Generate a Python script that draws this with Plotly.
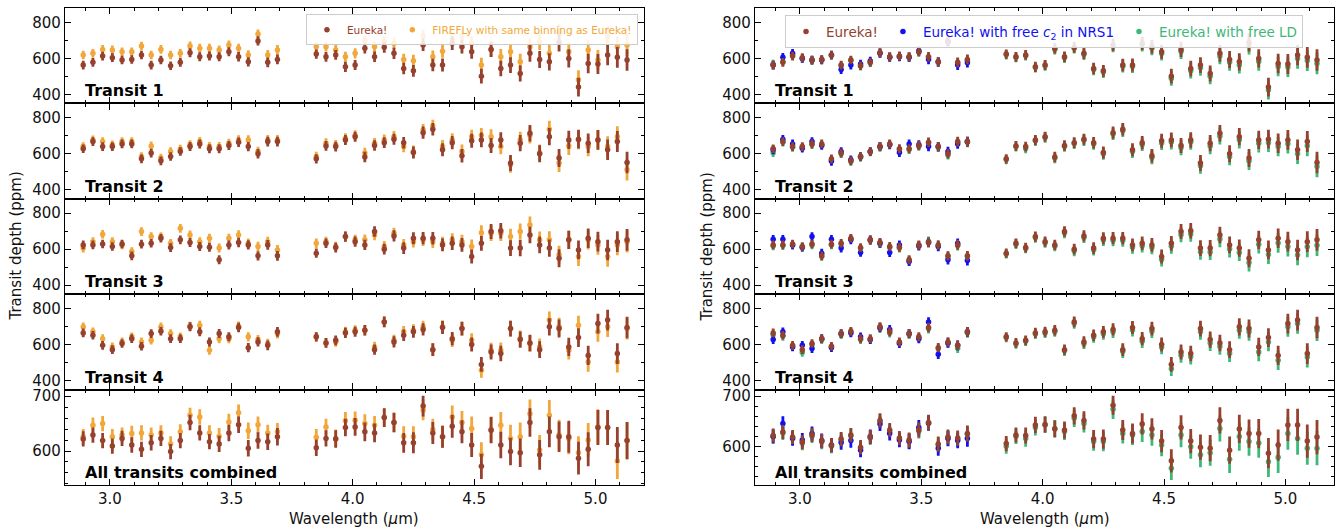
import plotly.graph_objects as go
from plotly.subplots import make_subplots

# ---------------- data ----------------
wavelength = [2.89, 2.93, 2.97, 3.01, 3.05, 3.09, 3.13, 3.17, 3.21, 3.25, 3.29, 3.33, 3.37, 3.41,
              3.45, 3.49, 3.53, 3.57, 3.61, 3.65, 3.69,
              3.85, 3.89, 3.93, 3.97, 4.01, 4.05, 4.09, 4.13, 4.17, 4.21, 4.25, 4.29, 4.33, 4.37,
              4.41, 4.45, 4.49, 4.53, 4.57, 4.61, 4.65, 4.69, 4.73, 4.77, 4.81, 4.85, 4.89, 4.93,
              4.97, 5.01, 5.05, 5.09, 5.13]
wavelength_nrs1 = [2.89, 2.93, 2.97, 3.01, 3.05, 3.09, 3.13, 3.17, 3.21, 3.25, 3.29, 3.33, 3.37,
                   3.41, 3.45, 3.49, 3.53, 3.57, 3.61, 3.65, 3.69]

row_labels = ["Transit 1", "Transit 2", "Transit 3", "Transit 4", "All transits combined"]

eureka_t1 = [563, 578, 613, 604, 591, 594, 619, 563, 591, 559, 578, 632, 609, 613, 609, 637, 609, 581, 697, 578, 594,
             624, 609, 619, 553, 563, 656, 609, 662, 628, 544, 531, 675, 563, 563, 684, 665, 637, 501, 650, 544, 563,
             516, 628, 594, 581, 688, 600, 441, 572, 569, 619, 606, 591]
eureka_t2 = [628, 668, 640, 640, 655, 655, 572, 604, 561, 585, 613, 640, 655, 628, 628, 646, 664, 640, 600, 668, 668,
             572, 644, 640, 677, 695, 582, 646, 662, 681, 662, 607, 717, 736, 622, 662, 589, 672, 677, 646, 677, 549,
             659, 714, 600, 695, 576, 677, 681, 659, 677, 622, 668, 552]
eureka_t3 = [624, 624, 629, 615, 629, 563, 628, 633, 661, 609, 652, 637, 615, 611, 541, 624, 637, 624, 563, 624, 563,
             578, 633, 609, 670, 642, 624, 698, 600, 674, 606, 661, 661, 661, 624, 633, 624, 559, 633, 698, 703, 606,
             606, 679, 624, 606, 550, 652, 596, 661, 642, 596, 642, 652]
eureka_t4 = [665, 652, 596, 572, 606, 633, 591, 661, 674, 633, 633, 699, 671, 615, 661, 643, 695, 583, 615, 596, 671,
             643, 609, 624, 665, 671, 680, 572, 726, 615, 652, 671, 684, 572, 695, 633, 689, 600, 490, 559, 550, 689,
             628, 609, 572, 699, 689, 587, 639, 540, 717, 736, 550, 695]
eureka_all = [622, 629, 619, 609, 623, 611, 603, 615, 623, 599, 619, 652, 633, 617, 613, 633, 648, 605, 619, 617, 626,
              606, 623, 622, 643, 644, 635, 633, 661, 652, 615, 615, 682, 633, 626, 645, 635, 611, 572, 638, 611, 599,
              597, 652, 593, 635, 626, 626, 587, 603, 643, 643, 611, 619]

firefly_t1 = [619, 628, 650, 647, 637, 637, 669, 619, 650, 619, 628, 669, 656, 656, 647, 675, 656, 619, 735, 619, 647,
              665, 665, 647, 609, 628, 699, 665, 693, 684, 594, 587, 725, 609, 640, 706, 721, 684, 563, 650, 609, 637,
              581, 665, 693, 628, 740, 637, 482, 647, 591, 721, 665, 675]
firefly_t2 = [640, 677, 668, 650, 668, 668, 585, 644, 576, 613, 626, 650, 668, 640, 640, 659, 677, 677, 613, 677, 677,
              585, 659, 650, 686, 703, 604, 659, 677, 695, 640, 613, 732, 754, 640, 677, 613, 695, 703, 695, 640, 539,
              677, 703, 604, 736, 549, 644, 677, 640, 677, 640, 695, 512]
firefly_t3 = [606, 642, 683, 642, 624, 587, 698, 670, 670, 633, 716, 679, 642, 661, 606, 661, 679, 633, 615, 642, 596,
              633, 642, 615, 670, 652, 652, 679, 615, 688, 624, 642, 652, 642, 633, 652, 642, 615, 692, 688, 688, 670,
              698, 735, 652, 652, 569, 652, 559, 652, 624, 559, 624, 642]
firefly_t4 = [699, 671, 633, 587, 615, 643, 615, 624, 699, 661, 643, 702, 708, 568, 633, 633, 702, 643, 628, 606, 661,
              643, 609, 615, 671, 680, 680, 587, 726, 624, 671, 680, 699, 572, 699, 624, 689, 624, 457, 568, 568, 689,
              633, 606, 587, 736, 699, 568, 708, 503, 671, 699, 503, 689]
firefly_all = [626, 647, 650, 626, 629, 632, 633, 629, 633, 613, 635, 665, 662, 633, 627, 653, 670, 637, 648, 633, 635,
               625, 644, 623, 655, 656, 650, 647, 661, 652, 627, 626, 675, 639, 626, 662, 652, 641, 593, 639, 647, 623,
               626, 668, 602, 665, 629, 623, 597, 620, 644, 643, 582, 619]

free_c2_t1 = [563, 606, 628, 600, 591, 591, 619, 538, 563, 569, 585, 628, 606, 609, 606, 643, 594, 581, 693, 563, 576]
free_c2_t2 = [622, 681, 655, 631, 668, 646, 558, 613, 567, 585, 613, 640, 650, 607, 655, 650, 640, 640, 613, 655, 668]
free_c2_t3 = [655, 655, 624, 611, 670, 578, 655, 606, 652, 582, 652, 633, 582, 624, 532, 618, 637, 615, 541, 633, 537]
free_c2_t4 = [628, 671, 587, 596, 578, 633, 583, 661, 665, 643, 628, 695, 684, 606, 661, 633, 726, 546, 609, 596, 671]
free_c2_all = [620, 646, 616, 613, 626, 612, 603, 608, 612, 593, 620, 645, 626, 613, 610, 638, 647, 597, 616, 612, 616]

free_ld_t1 = [568, 582, 616, 600, 588, 592, 616, 560, 588, 557, 576, 630, 606, 610, 606, 634, 606, 578, 694, 575, 590,
              620, 606, 615, 549, 559, 650, 604, 657, 622, 538, 524, 668, 556, 555, 676, 656, 627, 489, 638, 531, 548,
              501, 613, 578, 564, 672, 583, 424, 555, 552, 600, 588, 572]
free_ld_t2 = [606, 664, 636, 635, 651, 650, 566, 600, 557, 580, 610, 636, 652, 624, 624, 642, 660, 636, 594, 664, 664,
              568, 640, 630, 672, 690, 577, 640, 657, 675, 655, 600, 710, 728, 613, 652, 580, 660, 665, 634, 665, 533,
              643, 698, 583, 678, 560, 658, 662, 640, 656, 600, 645, 530]
free_ld_t3 = [618, 620, 622, 610, 624, 560, 624, 629, 657, 605, 648, 632, 610, 606, 537, 620, 644, 620, 560, 620, 560,
              574, 628, 604, 664, 636, 617, 690, 591, 665, 597, 651, 650, 649, 611, 619, 610, 543, 616, 680, 684, 586,
              585, 657, 601, 582, 526, 627, 570, 634, 615, 568, 613, 622]
free_ld_t4 = [655, 646, 588, 556, 600, 628, 586, 655, 668, 628, 628, 690, 664, 610, 656, 638, 688, 578, 608, 580, 665,
              639, 604, 619, 659, 664, 672, 566, 718, 606, 642, 660, 671, 561, 681, 618, 674, 585, 466, 541, 532, 671,
              609, 589, 550, 680, 671, 559, 615, 513, 699, 717, 531, 680]
free_ld_all = [620, 627, 617, 607, 621, 609, 601, 613, 621, 597, 617, 650, 631, 615, 611, 631, 646, 603, 617, 615, 624,
               601, 620, 616, 638, 643, 636, 630, 656, 646, 610, 610, 674, 626, 623, 630, 623, 603, 557, 623, 600, 584,
               588, 636, 575, 620, 610, 607, 570, 579, 626, 616, 597, 597]

err_single = [24, 24, 24, 24, 24, 24, 24, 24, 24, 24, 24, 25, 25, 25, 25, 25, 26, 26, 26, 27, 27,
              26, 27, 27, 28, 28, 29, 29, 30, 31, 32, 33, 34, 35, 36, 37, 38, 39, 41, 42, 43, 44,
              45, 46, 47, 48, 50, 51, 52, 54, 55, 57, 58, 60]
err_all = [14, 14, 14, 14, 14, 14, 14, 14, 14, 14, 14, 14, 14, 14, 15, 15, 15, 15, 15, 15, 16,
           15, 15, 16, 16, 16, 17, 17, 17, 18, 18, 19, 19, 20, 20, 21, 21, 22, 23, 24, 24, 25,
           26, 26, 27, 28, 28, 29, 30, 31, 32, 32, 33, 34]

eureka_rows = [eureka_t1, eureka_t2, eureka_t3, eureka_t4, eureka_all]
firefly_rows = [firefly_t1, firefly_t2, firefly_t3, firefly_t4, firefly_all]
free_c2_rows = [free_c2_t1, free_c2_t2, free_c2_t3, free_c2_t4, free_c2_all]
free_ld_rows = [free_ld_t1, free_ld_t2, free_ld_t3, free_ld_t4, free_ld_all]
err_rows = [err_single, err_single, err_single, err_single, err_all]

# ---------------- style ----------------
BROWN = "#96402e"
ORANGE = "#f2a73a"
BLUE = "#1010f0"
GREEN = "#3cb878"
FONT = "DejaVu Sans"

fig = make_subplots(rows=5, cols=2, horizontal_spacing=0.0874, vertical_spacing=0)


def add(row, col, x, y, err, color, name, show, legend, rank):
    fig.add_trace(go.Scatter(
        x=x, y=y, mode="markers",
        marker=dict(color=color, size=5.5, symbol="circle", line=dict(width=0)),
        error_y=dict(type="data", array=err, visible=True, color=color, thickness=2.8, width=0),
        name=name, showlegend=show, legend=legend, legendrank=rank, hoverinfo="skip"),
        row=row, col=col)


def span(color, txt):
    return f"<span style='color:{color}'>{txt}</span>"


for i in range(5):
    r = i + 1
    show = (i == 0)
    err = err_rows[i]
    err1 = err[:len(wavelength_nrs1)]
    # left column
    add(r, 1, wavelength, firefly_rows[i], err, ORANGE,
        span(ORANGE, "FIREFLy with same binning as Eureka!"), show, "legend", 2)
    add(r, 1, wavelength, eureka_rows[i], err, BROWN, span(BROWN, "Eureka!"), show, "legend", 1)
    # right column
    add(r, 2, wavelength, free_ld_rows[i], err, GREEN,
        span(GREEN, "Eureka! with free LD"), show, "legend2", 3)
    add(r, 2, wavelength_nrs1, free_c2_rows[i], err1, BLUE,
        span(BLUE, "Eureka! with free <i>c</i><sub>2</sub> in NRS1"), show, "legend2", 2)
    add(r, 2, wavelength, eureka_rows[i], err, BROWN, span(BROWN, "Eureka!"), show, "legend2", 1)

axis_common = dict(showline=True, linecolor="black", linewidth=1.3, mirror="allticks",
                   ticks="inside", ticklen=6, tickwidth=1, tickcolor="black",
                   showgrid=False, zeroline=False,
                   tickfont=dict(family=FONT, size=15, color="#111"))

for r in range(1, 6):
    for c in (1, 2):
        fig.update_xaxes(range=[2.815, 5.2], tick0=3.0, dtick=0.5, tickformat=".1f",
                         minor=dict(ticks="inside", dtick=0.1, ticklen=3, tickcolor="black", tickwidth=1),
                         showticklabels=(r == 5), row=r, col=c, **axis_common)
        if r < 5:
            fig.update_yaxes(range=[350, 880], tick0=0, dtick=200,
                             minor=dict(ticks="inside", dtick=100, ticklen=3, tickcolor="black", tickwidth=1),
                             row=r, col=c, **axis_common)
        else:
            yr = [538, 712] if c == 1 else [524, 713]
            fig.update_yaxes(range=yr, tick0=0, dtick=100,
                             minor=dict(ticks="inside", dtick=20, ticklen=3, tickcolor="black", tickwidth=1),
                             row=r, col=c, **axis_common)

# row labels
annotations = []
for i in range(5):
    for c in (1, 2):
        n = i * 2 + c
        sfx = "" if n == 1 else str(n)
        annotations.append(dict(text=f"<b>{row_labels[i]}</b>", xref=f"x{sfx} domain", yref=f"y{sfx} domain",
                                x=0.031, y=0.13, xanchor="left", yanchor="middle", showarrow=False,
                                font=dict(family=FONT, size=16, color="black")))

for xc in (0.2277, 0.7723):
    annotations.append(dict(text="Wavelength (<i>μ</i>m)", xref="paper", yref="paper", x=xc, y=-0.0713,
                            xanchor="center", yanchor="middle", showarrow=False,
                            font=dict(family=FONT, size=15, color="#111")))
for xc in (-0.0394, 0.5059):
    annotations.append(dict(text="Transit depth (ppm)", xref="paper", yref="paper", x=xc, y=0.5,
                            xanchor="center", yanchor="middle", textangle=-90, showarrow=False,
                            font=dict(family=FONT, size=15, color="#111")))

fig.update_layout(
    width=1338, height=529,
    margin=dict(l=65, r=4, t=8, b=44),
    paper_bgcolor="white", plot_bgcolor="white",
    font=dict(family=FONT, size=14, color="#111"),
    annotations=annotations,
    legend=dict(orientation="h", x=0.4515, xanchor="right", y=0.987, yanchor="top",
                font=dict(family=FONT, size=10.5), bgcolor="rgba(255,255,255,0.85)",
                bordercolor="#cccccc", borderwidth=1, itemwidth=30, traceorder="normal"),
    legend2=dict(orientation="h", x=0.9756, xanchor="right", y=0.985, yanchor="top",
                 font=dict(family=FONT, size=13.5), bgcolor="rgba(255,255,255,0.85)",
                 bordercolor="#cccccc", borderwidth=1, itemwidth=30, traceorder="normal"),
)

fig.write_html("out.html", config={"displayModeBar": False})
